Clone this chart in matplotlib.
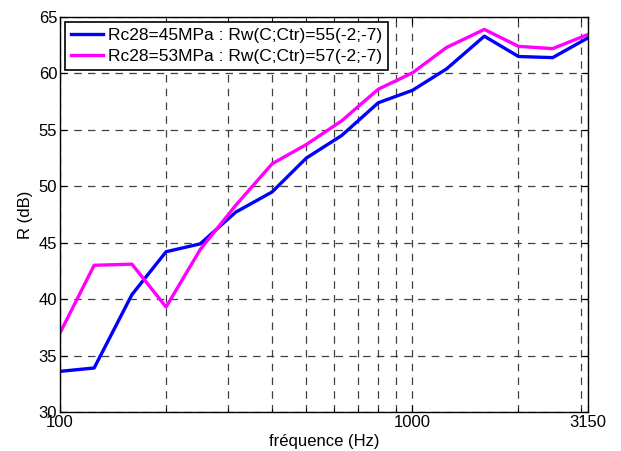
import numpy as np
import matplotlib
matplotlib.use("Agg")
import matplotlib.pyplot as plt
from matplotlib.ticker import FixedLocator, NullFormatter

plt.rcParams['font.family'] = ['Liberation Sans', 'DejaVu Sans']

freq = [100, 125, 160, 200, 250, 315, 400, 500, 630, 800, 1000, 1250, 1600, 2000, 2500, 3150]
r_45 = [33.6, 33.9, 40.4, 44.2, 44.9, 47.7, 49.5, 52.5, 54.5, 57.4, 58.5, 60.4, 63.3, 61.5, 61.4, 63.15]
r_53 = [37.0, 43.0, 43.1, 39.3, 44.4, 48.3, 52.0, 53.7, 55.8, 58.6, 60.05, 62.3, 63.9, 62.4, 62.2, 63.45]
labels = ["Rc28=45MPa : Rw(C;Ctr)=55(-2;-7)", "Rc28=53MPa : Rw(C;Ctr)=57(-2;-7)"]
xticks = [100, 1000, 3150]
yticks = [30, 35, 40, 45, 50, 55, 60, 65]

fig = plt.figure(figsize=(6.21, 4.51), dpi=100)
ax = fig.add_axes([60/621, 1 - 412/451, 528/621, 395/451])

ax.plot(freq, r_45, color='#0000ff', lw=2.4, label=labels[0])
ax.plot(freq, r_53, color='#ff00ff', lw=2.4, label=labels[1])

ax.set_xscale('log')
ax.set_xlim(100, 3150)
ax.set_ylim(30, 65)
ax.xaxis.set_major_locator(FixedLocator(xticks))
ax.set_xticklabels([str(t) for t in xticks])
minors = [200, 300, 400, 500, 600, 700, 800, 900, 2000, 3000]
ax.xaxis.set_minor_locator(FixedLocator(minors))
ax.xaxis.set_minor_formatter(NullFormatter())
ax.set_yticks(yticks)

ax.grid(True, which='both', color='#404040', linestyle=(0, (6, 5)), lw=0.9)
ax.tick_params(which='both', direction='in', top=True, right=True, labelsize=12)
ax.tick_params(which='major', length=5, pad=2)
ax.tick_params(which='minor', length=3)
for s in ax.spines.values():
    s.set_linewidth(1.0)

ax.set_xlabel('fréquence (Hz)', fontsize=12, labelpad=3)
ax.set_ylabel('R (dB)', fontsize=12, labelpad=4)

leg = ax.legend(loc='upper left', fontsize=12.5, fancybox=False, framealpha=1,
                edgecolor='black', borderaxespad=0.3, handlelength=1.8,
                handletextpad=0.3, borderpad=0.35, labelspacing=0.3)
leg.get_frame().set_linewidth(1.2)

fig.savefig('out.png', dpi=100)
